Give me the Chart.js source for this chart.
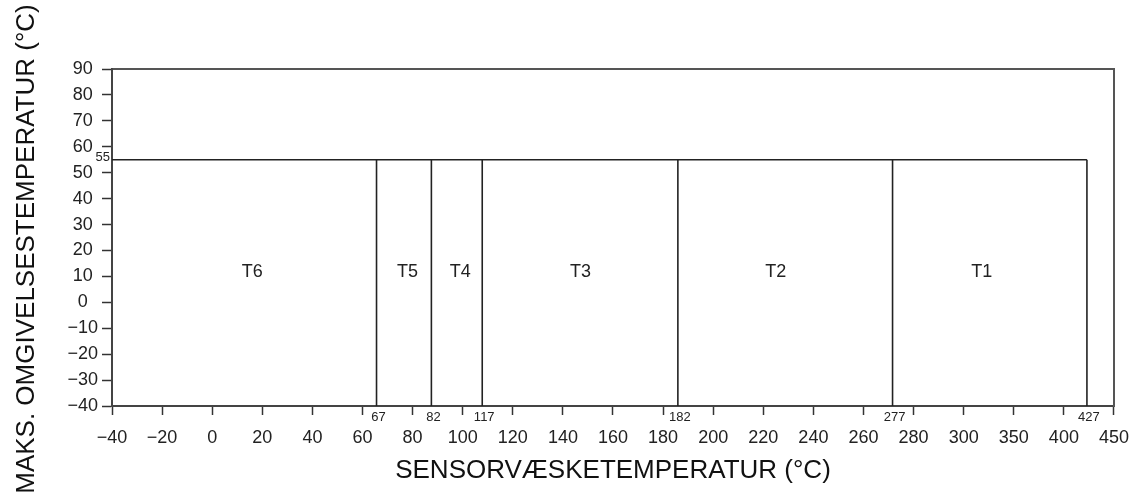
<!DOCTYPE html>
<html>
<head>
<meta charset="utf-8">
<script src="https://cdn.jsdelivr.net/npm/chart.js@4.4.1/dist/chart.umd.min.js"></script>
<style>
  html, body { margin: 0; padding: 0; background: #fff; }
  #wrap { width: 1141px; height: 504px; }
</style>
</head>
<body>
<div id="wrap"><canvas id="c" width="1141" height="504"></canvas></div>
<script>
// ---- data ----
const xTickValues = [-40, -20, 0, 20, 40, 60, 80, 100, 120, 140, 160, 180, 200, 220, 240, 260, 280, 300, 350, 400, 450];
const yTickValues = [-40, -30, -20, -10, 0, 10, 20, 30, 40, 50, 60, 70, 80, 90];
const maxAmbient = 55;                 // horizontal limit line
const minAmbient = -40;
const boundaryTemps = [65.6, 87.5, 107.8, 185.9, 271.6, 423];   // vertical lines as drawn
const boundaryLabels = ['67', '82', '117', '182', '277', '427'];
const classLabels = ['T6', 'T5', 'T4', 'T3', 'T2', 'T1'];
const classLabelX = [16, 78, 99, 147, 225, 318];
const classLabelY = 11.5;
const xTitle = 'SENSORVÆSKETEMPERATUR (°C)';
const yTitle = 'MAKS. OMGIVELSESTEMPERATUR (°C)';

// axis is piecewise: each tick interval occupies equal width
function toIdx(t) {
  for (let i = 0; i < xTickValues.length - 1; i++) {
    const a = xTickValues[i], b = xTickValues[i + 1];
    if (t <= b || i === xTickValues.length - 2) return i + (t - a) / (b - a);
  }
  return 0;
}
const fmt = v => (v < 0 ? '\u2212' + Math.abs(v) : String(v));
const FONT = '"Liberation Sans", Arial, Helvetica, sans-serif';
const LINE = '#222';

const datasets = [];
datasets.push({
  data: [{x: toIdx(xTickValues[0]), y: maxAmbient}, {x: toIdx(boundaryTemps[boundaryTemps.length - 1]), y: maxAmbient}],
  borderColor: LINE, borderWidth: 1.6, pointRadius: 0, fill: false
});
boundaryTemps.forEach(b => {
  datasets.push({
    data: [{x: toIdx(b), y: minAmbient}, {x: toIdx(b), y: maxAmbient}],
    borderColor: LINE, borderWidth: 1.6, pointRadius: 0, fill: false
  });
});

const annot = {
  id: 'annot',
  afterDraw(chart) {
    const ctx = chart.ctx, xs = chart.scales.x, ys = chart.scales.y;
    ctx.save();
    ctx.fillStyle = '#222';
    // class labels
    ctx.font = '18px ' + FONT;
    ctx.textAlign = 'center';
    ctx.textBaseline = 'middle';
    classLabels.forEach((t, i) => {
      ctx.fillText(t, xs.getPixelForValue(toIdx(classLabelX[i])), ys.getPixelForValue(classLabelY));
    });
    // boundary labels below axis
    ctx.font = '13px ' + FONT;
    ctx.textBaseline = 'middle';
    boundaryTemps.forEach((b, i) => {
      ctx.fillText(boundaryLabels[i], xs.getPixelForValue(toIdx(b)) + 2, ys.bottom + 11);
    });
    // 55 label
    ctx.textAlign = 'right';
    ctx.textBaseline = 'alphabetic';
    ctx.fillText(String(maxAmbient), xs.left - 2, ys.getPixelForValue(maxAmbient) + 1.5);
    // y title
    ctx.font = '26px ' + FONT;
    ctx.fillStyle = '#111';
    ctx.translate(33.5, 249);
    ctx.rotate(-Math.PI / 2);
    ctx.textAlign = 'center';
    ctx.textBaseline = 'alphabetic';
    ctx.fillText(yTitle, 0, 0);
    ctx.restore();
  }
};

new Chart(document.getElementById('c'), {
  type: 'line',
  data: { datasets },
  options: {
    responsive: false,
    animation: false,
    layout: { padding: { top: 69, right: 22, bottom: 0, left: 0 } },
    plugins: { legend: { display: false }, tooltip: { enabled: false } },
    scales: {
      x: {
        type: 'linear', position: 'bottom',
        min: 0, max: xTickValues.length - 1,
        afterBuildTicks: s => { s.ticks = xTickValues.map((v, i) => ({ value: i })); },
        afterFit: s => { s.height = 98; },
        ticks: {
          callback: v => fmt(xTickValues[v]),
          autoSkip: false, maxRotation: 0, minRotation: 0,
          padding: 12, color: '#222', font: { size: 18, family: FONT }
        },
        grid: { drawOnChartArea: false, drawTicks: true, tickLength: 9, tickColor: '#333', tickWidth: 1.5 },
        border: { display: true, color: '#444', width: 2 },
        title: { display: true, text: xTitle, color: '#111', font: { size: 26, family: FONT }, padding: { top: 0, bottom: 18 } }
      },
      x2: {
        type: 'linear', position: 'top', min: 0, max: xTickValues.length - 1,
        afterFit: s => { s.height = 0; },
        ticks: { display: false },
        grid: { display: false, drawTicks: false },
        border: { display: true, color: '#555', width: 2 }
      },
      y: {
        type: 'linear', position: 'left',
        min: minAmbient, max: 90,
        afterBuildTicks: s => { s.ticks = yTickValues.map(v => ({ value: v })); },
        afterFit: s => { s.width = 112; },
        ticks: {
          callback: v => fmt(v), autoSkip: false, crossAlign: 'center',
          padding: 4, color: '#222', font: { size: 18, family: FONT }
        },
        grid: { drawOnChartArea: false, drawTicks: true, tickLength: 10, tickColor: '#333', tickWidth: 1.5 },
        border: { display: true, color: '#444', width: 2 }
      },
      y2: {
        type: 'linear', position: 'right', min: minAmbient, max: 90,
        afterFit: s => { s.width = 0; },
        ticks: { display: false },
        grid: { display: false, drawTicks: false },
        border: { display: true, color: '#555', width: 2 }
      }
    }
  },
  plugins: [annot]
});
</script>
</body>
</html>
